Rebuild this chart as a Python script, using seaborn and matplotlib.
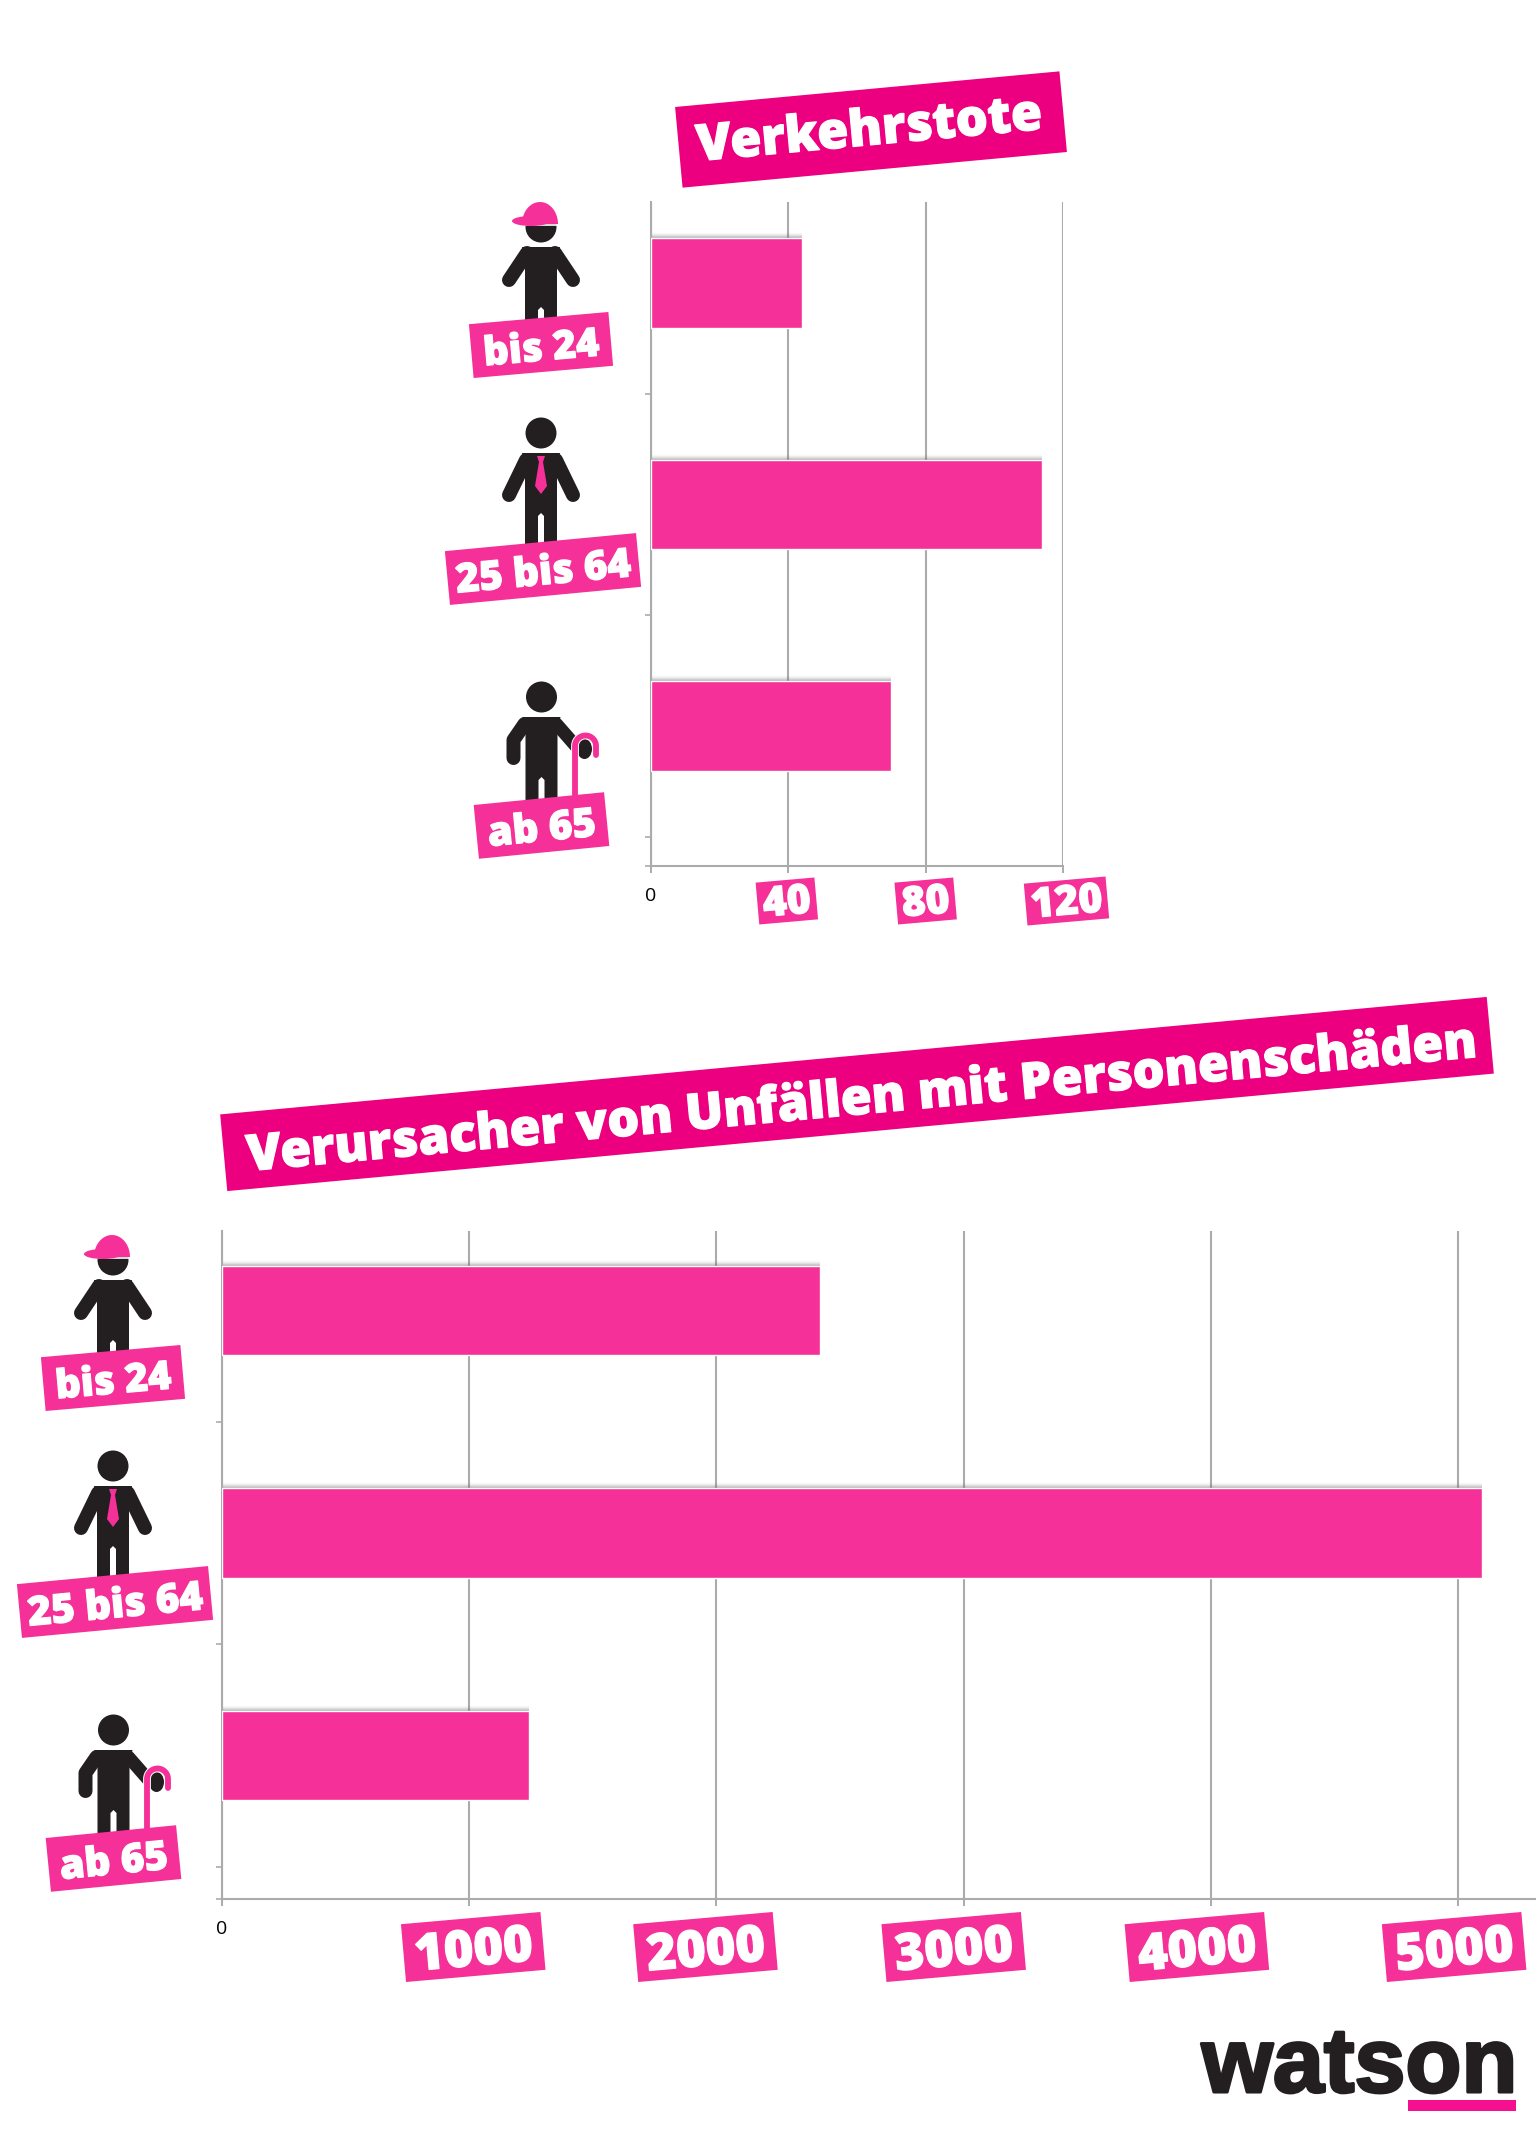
import numpy as np
import pandas as pd
import matplotlib
matplotlib.use('Agg')
import matplotlib.pyplot as plt
import matplotlib.patheffects as pe
from matplotlib.patches import Ellipse, Polygon, Rectangle
import seaborn as sns

# data
categories = ['bis 24', '25 bis 64', 'ab 65']
deaths = [44, 114, 70]
culprits = [2420, 5095, 1240]
death_ticks = [0, 40, 80, 120]
culprit_ticks = [0, 1000, 2000, 3000, 4000, 5000]
title_deaths = 'Verkehrstote'
title_culprits = 'Verursacher von Unfällen mit Personenschäden'

W, H = 1536, 2142
PINK = '#F53098'
TITLE_PINK = '#EC0080'
DARK = '#231F20'
GREY = '#ABABAB'

sns.set_theme(style='white')
plt.rcParams['font.family'] = ['Open Sans', 'DejaVu Sans']

fig = plt.figure(figsize=(W / 100, H / 100), dpi=100, facecolor='white')


def make_axes(left, right, top, bottom):
    return fig.add_axes([left / W, 1 - bottom / H, (right - left) / W, (bottom - top) / H])


def draw_chart(ax, values, ticks, xmax, ylim):
    df = pd.DataFrame({'group': categories, 'value': values})
    sns.barplot(data=df, x='value', y='group', color=PINK, saturation=1, width=0.403,
                ax=ax, zorder=3)
    ax.set_xlim(0, xmax)
    ax.set_ylim(*ylim)
    ax.set_xlabel('')
    ax.set_ylabel('')
    ax.set_xticks(ticks)
    ax.set_xticklabels(['0'] + [''] * (len(ticks) - 1), fontsize=14, color='black')
    ax.set_yticks([0.5, 1.5, 2.5, ylim[0]])
    ax.set_yticklabels([])
    ax.patch.set_alpha(0)
    ax.tick_params(axis='x', bottom=True, length=5, width=1.4, color=GREY, pad=10)
    ax.tick_params(axis='y', left=True, length=4, width=1.2, color=GREY)
    ax.grid(axis='x', color=GREY, lw=1.5, zorder=1)
    ax.set_axisbelow(True)
    for side in ['top', 'right']:
        ax.spines[side].set_visible(False)
    for side in ['left', 'bottom']:
        ax.spines[side].set_color(GREY)
        ax.spines[side].set_linewidth(1.5)
    # soft shadow on top of each bar
    step = 1.0 / 221.5
    for bar in list(ax.patches):
        for i in range(6):
            ax.add_patch(Rectangle((0, bar.get_y() - (i + 1) * step), bar.get_width(), step,
                                   color='#555555', alpha=0.42 * (1 - i / 6) ** 2, lw=0, zorder=2))


ax1 = make_axes(651, 1063, 202, 866)
draw_chart(ax1, deaths, death_ticks, 120, (2.632, -0.366))
ax2 = make_axes(222, 1536, 1231, 1899)
draw_chart(ax2, culprits, culprit_ticks, 5315, (2.645, -0.357))

# overlay in picture pixels for the pictograms and the tags
ov = fig.add_axes([0, 0, 1, 1], zorder=10)
ov.set_xlim(0, W)
ov.set_ylim(H, 0)
ov.axis('off')


def tag(cx, cy, w, h, angle, text, size, color=PINK, drop=5, shift=0):
    a = np.radians(angle)
    corners = []
    for dx, dy in [(-w / 2, -h / 2), (w / 2, -h / 2), (w / 2, h / 2), (-w / 2, h / 2)]:
        corners.append((cx + dx * np.cos(a) + dy * np.sin(a), cy - dx * np.sin(a) + dy * np.cos(a)))
    ov.add_patch(Polygon(corners, closed=True, fc=color, ec='none', zorder=5))
    ov.text(cx + shift + drop * np.sin(a), cy + drop * np.cos(a), text, color='white', fontsize=size,
            fontweight='heavy', rotation=angle, rotation_mode='anchor', ha='center', va='center',
            zorder=6, path_effects=[pe.withStroke(linewidth=0.9, foreground='white')])


def limb(x, y, lw=14, color=DARK, z=2):
    ov.plot(x, y, color=color, lw=lw * 0.72, solid_capstyle='round', solid_joinstyle='round', zorder=z)


def body(cx, top):
    ov.add_patch(Ellipse((cx, top + 15), 31, 31, fc=DARK, ec='none', zorder=2))
    s = top + 35
    legs = [(cx - 19, s), (cx + 19, s), (cx + 16, s + 14), (cx + 16, s + 95), (cx + 3, s + 95), (cx + 3, s + 63),
            (cx, s + 60), (cx - 3, s + 63), (cx - 3, s + 95), (cx - 16, s + 95), (cx - 16, s + 14)]
    ov.add_patch(Polygon(legs, closed=True, fc=DARK, ec='none', zorder=2))


def young(cx, top):
    body(cx, top)
    limb([cx - 14, cx - 32], [top + 41, top + 68])
    limb([cx + 14, cx + 32], [top + 41, top + 68])
    t = np.linspace(np.pi, 2 * np.pi, 30)
    dome = np.column_stack([cx - 1 + 18 * np.cos(t), top + 12 + 22 * np.sin(t)])
    ov.add_patch(Polygon(dome, closed=True, fc=PINK, ec='none', zorder=4))
    ov.add_patch(Ellipse((cx - 10, top + 9), 38, 10, fc=PINK, ec='none', zorder=4))
    ov.plot([cx - 16, cx + 16], [top + 13, top + 13], color='white', lw=1.2, zorder=3)


def adult(cx, top):
    body(cx, top)
    limb([cx - 15, cx - 32], [top + 42, top + 77])
    limb([cx + 15, cx + 32], [top + 42, top + 77])
    tie = [(cx - 4, top + 38), (cx + 4, top + 38), (cx + 2, top + 44), (cx + 6, top + 68), (cx, top + 76),
           (cx - 6, top + 68), (cx - 2, top + 44)]
    ov.add_patch(Polygon(tie, closed=True, fc=PINK, ec='none', zorder=4))


def senior(cx, top):
    body(cx, top)
    limb([cx - 17, cx - 28, cx - 28], [top + 42, top + 58, top + 76])
    limb([cx + 15, cx + 36], [top + 42, top + 66], lw=13)
    ov.add_patch(Ellipse((cx + 43, top + 67), 15, 20, fc=DARK, ec='none', zorder=2))
    t = np.linspace(np.pi, 2 * np.pi, 30)
    hx = np.r_[cx + 33.5, cx + 44 + 10.5 * np.cos(t), cx + 54.5]
    hy = np.r_[top + 113, top + 64 + 10.5 * np.sin(t), top + 73]
    ov.plot(hx, hy, color=PINK, lw=4.2, solid_capstyle='round', zorder=4,
            path_effects=[pe.Stroke(linewidth=5.6, foreground='white'), pe.Normal()])


# top chart
young(541, 212)
adult(541, 418)
senior(541.5, 682)
tag(541, 345, 140, 54, 5.0, categories[0], 28.5)
tag(543, 569, 192, 54, 5.4, categories[1], 29)
tag(541.5, 825.5, 131, 54, 5.6, categories[2], 29)
tag(871, 129.5, 386, 81, 5.3, title_deaths, 36.4, TITLE_PINK, drop=2, shift=-2)

# bottom chart, same figures shifted
young(113, 1245)
adult(113, 1451)
senior(113.5, 1715)
tag(113, 1378, 140, 54, 5.0, categories[0], 28.5)
tag(115, 1602, 192, 54, 5.4, categories[1], 29)
tag(113.5, 1858.5, 131, 54, 5.6, categories[2], 29)
tag(857, 1094, 1272, 77, 5.3, title_culprits, 36.1, TITLE_PINK, drop=7, shift=4)

# x tick tags sit a little off their ticks
offs1 = [-1.5, 0, 3.5]
sizes1 = [59, 59, 82]
for v, off, w in zip(death_ticks[1:], offs1, sizes1):
    px = ax1.transData.transform((v, 0))[0]
    tag(px + off, 901, w, 42, 5.0, str(v), 29.5, drop=3)
offs2 = [4, -11, -10, -14, -4]
for v, off in zip(culprit_ticks[1:], offs2):
    px = ax2.transData.transform((v, 0))[0]
    tag(px + off, 1947, 140, 58, 5.0, str(v), 36.5)

# logo
ov.text(1517, 2092, 'watson', color=DARK, fontsize=66, fontweight='bold', family=['Liberation Sans'],
        ha='right', va='baseline', zorder=6,
        path_effects=[pe.withStroke(linewidth=2.2, foreground=DARK)])
ov.add_patch(Rectangle((1408, 2100), 108, 11, fc='#F5108F', ec='none', zorder=6))

fig.savefig('out.png', dpi=100)
